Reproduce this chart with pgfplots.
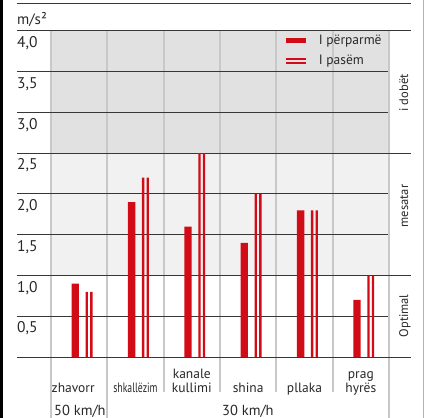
\documentclass[border=0pt]{standalone}
\usepackage{pgfplots}
\pgfplotsset{compat=1.18}
\usepackage{pgfplotstable}
\usepackage{graphicx}
\usepackage{fontspec}
\setmainfont{PT Sans}

\definecolor{barred}{RGB}{210,12,22}
\definecolor{zonedark}{RGB}{225,225,225}
\definecolor{zonelight}{RGB}{241,241,241}
\definecolor{sepgray}{RGB}{200,200,200}
\definecolor{gridcol}{RGB}{55,55,55}
\definecolor{txt}{RGB}{40,40,40}

% acceleration, front / rear
\pgfplotstableread{
x front rear
0 0.90 0.80
1 1.90 2.20
2 1.60 2.50
3 1.40 2.00
4 1.80 1.80
5 0.70 1.00
}\braking

\begin{document}
\begin{tikzpicture}
\useasboundingbox (-51bp,-61bp) rectangle (375bp,357bp);
% frame
\fill[black] (-51bp,-61bp) rectangle (-48bp,357bp);
\draw[gray!60, line width=0.8bp] (372.5bp,-61bp) -- (372.5bp,357bp);
% zones
\fill[zonedark] (0bp,203.75bp) rectangle (338bp,326bp);
\fill[zonelight] (0bp,81.5bp) rectangle (338bp,203.75bp);
% column separators
\foreach \k in {0,1,6}
  \draw[sepgray, line width=2bp] ({\k*56.333bp},326bp) -- ({\k*56.333bp},-61bp);
\foreach \k in {2,...,5}
  \draw[sepgray, line width=2bp] ({\k*56.333bp},326bp) -- ({\k*56.333bp},-35bp);
% horizontal lines
\foreach \v in {40.75,122.25,163,244.5,285.25}
  \draw[gridcol, line width=1bp] (-34bp,{\v*1bp}) -- (337bp,{\v*1bp});
\foreach \v in {0,81.5,203.75,326,353}
  \draw[gridcol, line width=1bp] (-34bp,{\v*1bp}) -- (360bp,{\v*1bp});
% labels
\node[anchor=base west, inner sep=0pt, text=txt, font=\fontsize{15bp}{18bp}\selectfont] at (-34bp,332bp) {m/s²};
\node[anchor=base west, inner sep=0pt, text=txt, font=\fontsize{14.5bp}{17bp}\selectfont] at (3bp,-58bp) {50 km/h};
\node[anchor=base west, inner sep=0pt, text=txt, font=\fontsize{14.5bp}{17bp}\selectfont] at (171bp,-58bp) {30 km/h};
\begin{scope}[every node/.style={rotate=90, anchor=base, inner sep=0pt, text=txt, font=\fontsize{12.5bp}{15bp}\selectfont}]
\node at (357bp,264bp) {i dobët};
\node at (357bp,151bp) {mesatar};
\node at (357bp,41.2bp) {Optimal};
\end{scope}

\begin{axis}[
  scale only axis,
  width=338bp, height=326bp,
  xmin=-0.5, xmax=5.5,
  ymin=0, ymax=4,
  clip=false,
  axis line style={draw=none},
  tick style={draw=none},
  major tick length=0pt,
  xtick={0,...,5},
  xticklabels={{\kern-6bp zhavorr\kern6bp},
    {\scalebox{0.72}[1]{shkallëzim}},
    {\begin{tabular}[b]{@{}c@{}}kanale\\kullimi\end{tabular}},
    shina, pllaka,
    {\begin{tabular}[b]{@{}c@{}}prag\\hyrës\end{tabular}}},
  xticklabel style={anchor=base, yshift=-35bp, inner sep=0pt, text=txt,
    font=\fontsize{13.5bp}{14bp}\selectfont},
  ytick={0.5,1,...,4},
  yticklabel style={anchor=base west, xshift=-34bp, yshift=-16.7bp, inner sep=0pt,
    text=txt, font=\fontsize{15.5bp}{18bp}\selectfont,
    /pgf/number format/.cd, fixed, fixed zerofill, precision=1, use comma,
    assume math mode=true},
  legend style={at={(axis description cs:0.6944,0.994)}, anchor=north west,
    draw=none, fill=none, inner sep=0pt, row sep=5bp, text=txt,
    font=\fontsize{13.5bp}{16bp}\selectfont,
    /tikz/every odd column/.append style={column sep=11bp}},
  legend cell align=left,
]
\addplot[ybar, bar width=7.3bp, bar shift=-3.9bp, fill=barred, draw=none,
  legend image code/.code={\fill[barred] (0bp,-2.2bp) rectangle (20bp,2.2bp);}]
  table[x=x, y=front] {\braking};
\addlegendentry{I përparmë}
\addplot[ybar, bar width=2.3bp, bar shift=7.6bp, fill=barred, draw=none,
  legend image code/.code={\fill[barred] (0bp,0.9bp) rectangle (20bp,2.9bp);
    \fill[barred] (0bp,-2.9bp) rectangle (20bp,-0.9bp);}]
  table[x=x, y=rear] {\braking};
\addlegendentry{I pasëm}
\addplot[ybar, bar width=2.3bp, bar shift=12.2bp, fill=barred, draw=none, forget plot]
  table[x=x, y=rear] {\braking};
\end{axis}
\end{tikzpicture}
\end{document}
